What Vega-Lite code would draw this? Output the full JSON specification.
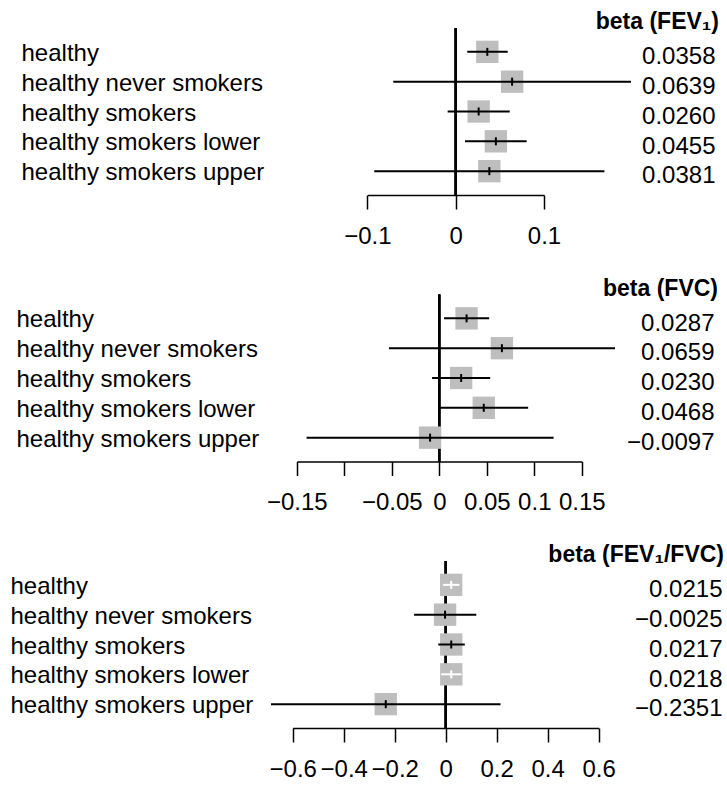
{
  "$schema": "https://vega.github.io/schema/vega-lite/v6.json",
  "background": "white",
  "padding": {"left": 10, "top": 11, "right": 0, "bottom": 0},
  "bounds": "flush",
  "spacing": 99.5,
  "config": {
    "view": {"stroke": null},
    "font": "Liberation Sans",
    "axis": {"grid": false, "labelFont": "Liberation Sans", "labelColor": "black"}
  },
  "datasets": {
    "fev1": [
      {"row": 1, "name": "healthy", "est": 0.0358, "lo": 0.0131, "hi": 0.0589, "label": "0.0358"},
      {"row": 2, "name": "healthy never smokers", "est": 0.0639, "lo": -0.0707, "hi": 0.1985, "label": "0.0639"},
      {"row": 3, "name": "healthy smokers", "est": 0.0260, "lo": -0.0091, "hi": 0.0612, "label": "0.0260"},
      {"row": 4, "name": "healthy smokers lower", "est": 0.0455, "lo": 0.0105, "hi": 0.0804, "label": "0.0455"},
      {"row": 5, "name": "healthy smokers upper", "est": 0.0381, "lo": -0.0922, "hi": 0.1684, "label": "0.0381"}
    ],
    "fvc": [
      {"row": 1, "name": "healthy", "est": 0.0287, "lo": 0.005, "hi": 0.0525, "label": "0.0287"},
      {"row": 2, "name": "healthy never smokers", "est": 0.0659, "lo": -0.053, "hi": 0.185, "label": "0.0659"},
      {"row": 3, "name": "healthy smokers", "est": 0.0230, "lo": -0.0076, "hi": 0.0536, "label": "0.0230"},
      {"row": 4, "name": "healthy smokers lower", "est": 0.0468, "lo": 0.0003, "hi": 0.0935, "label": "0.0468"},
      {"row": 5, "name": "healthy smokers upper", "est": -0.0097, "lo": -0.1397, "hi": 0.1203, "label": "−0.0097"}
    ],
    "ratio": [
      {"row": 1, "name": "healthy", "est": 0.0215, "lo": -0.011, "hi": 0.054, "label": "0.0215"},
      {"row": 2, "name": "healthy never smokers", "est": -0.0025, "lo": -0.124, "hi": 0.12, "label": "−0.0025"},
      {"row": 3, "name": "healthy smokers", "est": 0.0217, "lo": -0.029, "hi": 0.075, "label": "0.0217"},
      {"row": 4, "name": "healthy smokers lower", "est": 0.0218, "lo": -0.018, "hi": 0.062, "label": "0.0218"},
      {"row": 5, "name": "healthy smokers upper", "est": -0.2351, "lo": -0.685, "hi": 0.215, "label": "−0.2351"}
    ]
  },
  "vconcat": [
    {
      "data": {"name": "fev1"},
      "width": 370,
      "height": 167,
      "title": {"text": "beta (FEV₁)", "anchor": "end", "frame": "group", "dx": 79, "dy": 25, "offset": 0, "baseline": "alphabetic", "fontSize": 23, "fontWeight": "bold", "font": "Liberation Sans", "color": "black"},
      "layer": [
        {
          "layer": [
            {
              "mark": {"type": "rule", "strokeWidth": 2, "color": "black"},
              "encoding": {
                "x": {"datum": 0, "type": "quantitative", "title": null,
                  "scale": {"domain": [-0.1, 0.1], "range": [97.4, 274], "nice": false, "zero": false},
                  "axis": {"orient": "bottom", "title": null, "values": [-0.1, 0, 0.1], "format": "~g", "domainColor": "black", "domainWidth": 1.5, "tickColor": "black", "tickWidth": 1.5, "tickSize": 14, "labelPadding": 15, "labelFontSize": 24, "labelFlush": false, "labelOverlap": false, "labelBound": false}}
              }
            },
            {
              "mark": {"type": "square", "size": 500, "color": "#BEBEBE", "opacity": 1, "filled": true},
              "encoding": {
                "x": {"field": "est", "type": "quantitative", "title": null},
                "y": {"field": "name", "type": "nominal", "title": null, "sort": {"field": "row", "op": "min"}, "scale": {"type": "point", "padding": 0.8},
                  "axis": {"orient": "left", "title": null, "domain": false, "ticks": false, "tickSize": 0, "labelAlign": "left", "labelPadding": 249, "labelFontSize": 24, "labelOffset": 1.5, "labelLimit": 400}}
              }
            },
            {
              "mark": {"type": "rule", "strokeWidth": 2, "color": "black"},
              "encoding": {
                "x": {"field": "lo", "type": "quantitative", "title": null},
                "x2": {"field": "hi"},
                "y": {"field": "name", "type": "nominal", "title": null, "sort": {"field": "row", "op": "min"}}
              }
            },
            {
              "mark": {"type": "tick", "size": 8, "thickness": 2, "color": "black", "opacity": 1},
              "encoding": {
                "x": {"field": "est", "type": "quantitative", "title": null},
                "y": {"field": "name", "type": "nominal", "title": null, "sort": {"field": "row", "op": "min"}}
              }
            }
          ]
        },
        {
          "mark": {"type": "point", "opacity": 0},
          "encoding": {
            "x": {"field": "est", "type": "quantitative", "title": null},
            "y": {"field": "label", "type": "nominal", "title": null, "sort": {"field": "row", "op": "min"}, "scale": {"type": "point", "padding": 0.8},
              "axis": {"orient": "right", "title": null, "domain": false, "ticks": false, "tickSize": 0, "labelAlign": "right", "labelPadding": 75, "labelFontSize": 24, "labelOffset": 4.8, "labelLimit": 400}}
          }
        }
      ],
      "resolve": {"scale": {"y": "independent"}, "axis": {"y": "independent"}}
    },
    {
      "data": {"name": "fvc"},
      "width": 370,
      "height": 167,
      "title": {"text": "beta (FVC)", "anchor": "end", "frame": "group", "dx": 78, "dy": 25, "offset": 0, "baseline": "alphabetic", "fontSize": 23, "fontWeight": "bold", "font": "Liberation Sans", "color": "black"},
      "layer": [
        {
          "layer": [
            {
              "mark": {"type": "rule", "strokeWidth": 2, "color": "black"},
              "encoding": {
                "x": {"datum": 0, "type": "quantitative", "title": null,
                  "scale": {"domain": [-0.15, 0.15], "range": [26.8, 311.8], "nice": false, "zero": false},
                  "axis": {"orient": "bottom", "title": null, "values": [-0.15, -0.1, -0.05, 0, 0.05, 0.1, 0.15], "format": "~g", "labelExpr": "abs(datum.value + 0.1) < 1e-9 ? '' : datum.label", "domainColor": "black", "domainWidth": 1.5, "tickColor": "black", "tickWidth": 1.5, "tickSize": 14, "labelPadding": 15, "labelFontSize": 24, "labelFlush": false, "labelOverlap": false, "labelBound": false}}
              }
            },
            {
              "mark": {"type": "square", "size": 500, "color": "#BEBEBE", "opacity": 1, "filled": true},
              "encoding": {
                "x": {"field": "est", "type": "quantitative", "title": null},
                "y": {"field": "name", "type": "nominal", "title": null, "sort": {"field": "row", "op": "min"}, "scale": {"type": "point", "padding": 0.8},
                  "axis": {"orient": "left", "title": null, "domain": false, "ticks": false, "tickSize": 0, "labelAlign": "left", "labelPadding": 254, "labelFontSize": 24, "labelOffset": 1.5, "labelLimit": 400}}
              }
            },
            {
              "mark": {"type": "rule", "strokeWidth": 2, "color": "black"},
              "encoding": {
                "x": {"field": "lo", "type": "quantitative", "title": null},
                "x2": {"field": "hi"},
                "y": {"field": "name", "type": "nominal", "title": null, "sort": {"field": "row", "op": "min"}}
              }
            },
            {
              "mark": {"type": "tick", "size": 8, "thickness": 2, "color": "black", "opacity": 1},
              "encoding": {
                "x": {"field": "est", "type": "quantitative", "title": null},
                "y": {"field": "name", "type": "nominal", "title": null, "sort": {"field": "row", "op": "min"}}
              }
            }
          ]
        },
        {
          "mark": {"type": "point", "opacity": 0},
          "encoding": {
            "x": {"field": "est", "type": "quantitative", "title": null},
            "y": {"field": "label", "type": "nominal", "title": null, "sort": {"field": "row", "op": "min"}, "scale": {"type": "point", "padding": 0.8},
              "axis": {"orient": "right", "title": null, "domain": false, "ticks": false, "tickSize": 0, "labelAlign": "right", "labelPadding": 74, "labelFontSize": 24, "labelOffset": 4.8, "labelLimit": 400}}
          }
        }
      ],
      "resolve": {"scale": {"y": "independent"}, "axis": {"y": "independent"}}
    },
    {
      "data": {"name": "ratio"},
      "width": 370,
      "height": 167,
      "title": {"text": "beta (FEV₁/FVC)", "anchor": "end", "frame": "group", "dx": 84, "dy": 25, "offset": 0, "baseline": "alphabetic", "fontSize": 23, "fontWeight": "bold", "font": "Liberation Sans", "color": "black"},
      "layer": [
        {
          "layer": [
            {
              "mark": {"type": "rule", "strokeWidth": 2, "color": "black"},
              "encoding": {
                "x": {"datum": 0, "type": "quantitative", "title": null,
                  "scale": {"domain": [-0.6, 0.6], "range": [22.7, 328.7], "nice": false, "zero": false},
                  "axis": {"orient": "bottom", "title": null, "values": [-0.6, -0.4, -0.2, 0, 0.2, 0.4, 0.6], "format": "~g", "domainColor": "black", "domainWidth": 1.5, "tickColor": "black", "tickWidth": 1.5, "tickSize": 14, "labelPadding": 15, "labelFontSize": 24, "labelFlush": false, "labelOverlap": false, "labelBound": false}}
              }
            },
            {
              "mark": {"type": "square", "size": 500, "color": "#BEBEBE", "opacity": 1, "filled": true},
              "encoding": {
                "x": {"field": "est", "type": "quantitative", "title": null},
                "y": {"field": "name", "type": "nominal", "title": null, "sort": {"field": "row", "op": "min"}, "scale": {"type": "point", "padding": 0.8},
                  "axis": {"orient": "left", "title": null, "domain": false, "ticks": false, "tickSize": 0, "labelAlign": "left", "labelPadding": 260, "labelFontSize": 24, "labelOffset": 1.5, "labelLimit": 400}}
              }
            },
            {
              "mark": {"type": "rule", "strokeWidth": 2},
              "encoding": {
                "x": {"field": "lo", "type": "quantitative", "title": null},
                "x2": {"field": "hi"},
                "y": {"field": "name", "type": "nominal", "title": null, "sort": {"field": "row", "op": "min"}},
                "color": {"condition": {"test": "datum.hi - datum.lo < 0.088", "value": "white"}, "value": "black"}
              }
            },
            {
              "mark": {"type": "tick", "size": 8, "thickness": 2, "opacity": 1},
              "encoding": {
                "x": {"field": "est", "type": "quantitative", "title": null},
                "y": {"field": "name", "type": "nominal", "title": null, "sort": {"field": "row", "op": "min"}},
                "color": {"condition": {"test": "datum.hi - datum.lo < 0.088", "value": "white"}, "value": "black"}
              }
            }
          ]
        },
        {
          "mark": {"type": "point", "opacity": 0},
          "encoding": {
            "x": {"field": "est", "type": "quantitative", "title": null},
            "y": {"field": "label", "type": "nominal", "title": null, "sort": {"field": "row", "op": "min"}, "scale": {"type": "point", "padding": 0.8},
              "axis": {"orient": "right", "title": null, "domain": false, "ticks": false, "tickSize": 0, "labelAlign": "right", "labelPadding": 82, "labelFontSize": 24, "labelOffset": 4.8, "labelLimit": 400}}
          }
        }
      ],
      "resolve": {"scale": {"y": "independent"}, "axis": {"y": "independent"}}
    }
  ]
}
